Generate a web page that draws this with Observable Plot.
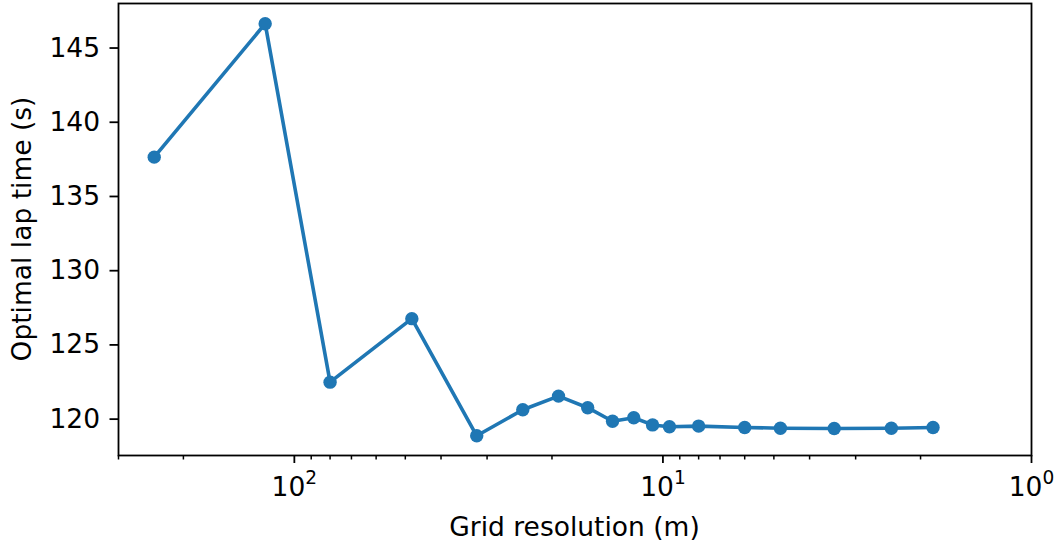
<!DOCTYPE html>
<html>
<head>
<meta charset="utf-8">
<script src="https://cdn.jsdelivr.net/npm/d3@7"></script>
<script src="https://cdn.jsdelivr.net/npm/@observablehq/plot@0.6"></script>
<style>
  html, body { margin: 0; padding: 0; background: #fff; }
  #chart svg { display: block; }
</style>
</head>
<body>
<div id="chart"></div>
<script>
// Grid resolution (m)
const resolution = [240, 120, 80, 48, 32, 24, 19.2, 16, 13.7, 12, 10.67, 9.6, 8, 6, 4.8, 3.43, 2.4, 1.85];
// Optimal lap time (s)
const lapTime = [137.65, 146.64, 122.49, 126.77, 118.88, 120.63, 121.55, 120.77, 119.86, 120.09, 119.61, 119.49, 119.53, 119.44, 119.39, 119.37, 119.39, 119.44];

const xMajorTicks = [100, 10, 1];
const xTickLabels = ["10^2", "10^1", "10^0"];
const xMinorTicks = [300, 200, 90, 80, 70, 60, 50, 40, 30, 20, 9, 8, 7, 6, 5, 4, 3, 2];
const yTicks = [120, 125, 130, 135, 140, 145];
const xLabel = "Grid resolution (m)";
const yLabel = "Optimal lap time (s)";

const data = resolution.map((r, i) => ({r, t: lapTime[i]}));

const W = 1057, H = 545;
const mL = 118, mR = 26, mT = 3, mB = 90;
const blue = "#1f77b4";
const fs = 26.5;

const plot = Plot.plot({
  width: W,
  height: H,
  marginLeft: mL,
  marginRight: mR,
  marginTop: mT,
  marginBottom: mB,
  style: {fontFamily: "'DejaVu Sans', sans-serif", fontSize: fs + "px", color: "black", background: "white"},
  x: {type: "log", domain: [300, 1]},
  y: {domain: [117.55, 148.0]},
  marks: [
    Plot.axisX({ticks: xMajorTicks, tickSize: 8, tickPadding: 14, strokeWidth: 1.8,
      tickFormat: d => xTickLabels[xMajorTicks.indexOf(d)], label: null}),
    Plot.axisX({ticks: xMinorTicks, tickSize: 4.5, strokeWidth: 1.5, tickFormat: () => "", label: null}),
    Plot.axisY({ticks: yTicks, tickSize: 8.5, tickPadding: 10, strokeWidth: 1.8, label: null}),
    Plot.line(data, {x: "r", y: "t", stroke: blue, strokeWidth: 3.6}),
    Plot.dot(data, {x: "r", y: "t", r: 6.7, fill: blue, stroke: "none"}),
    Plot.frame({stroke: "black", strokeWidth: 1.8})
  ]
});

const svg = d3.select(plot);
// superscript exponents for the log tick labels
svg.selectAll('g[aria-label="x-axis tick label"] text').each(function() {
  const s = this.textContent;
  if (!s || s.indexOf("^") < 0) return;
  const [base, exp] = s.split("^");
  const t = d3.select(this);
  t.text(base);
  t.append("tspan").attr("dy", "-12px").style("font-size", (fs * 0.7) + "px").text(exp);
});

svg.append("text")
  .attr("x", (mL + (W - mR)) / 2)
  .attr("y", 536)
  .attr("text-anchor", "middle")
  .attr("fill", "black")
  .style("font-size", fs + "px")
  .text(xLabel);

svg.append("text")
  .attr("transform", `translate(31, ${(mT + (H - mB)) / 2}) rotate(-90)`)
  .attr("text-anchor", "middle")
  .attr("fill", "black")
  .style("font-size", fs + "px")
  .text(yLabel);

document.getElementById("chart").appendChild(plot);
</script>
</body>
</html>
